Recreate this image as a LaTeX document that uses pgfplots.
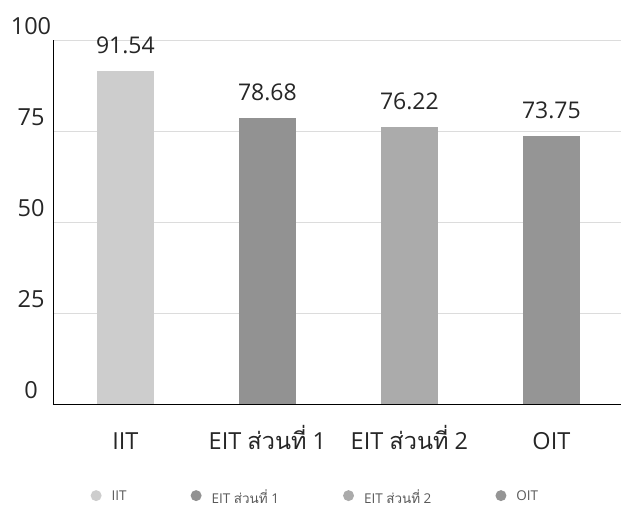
\documentclass[border=0pt]{standalone}
\usepackage{fontspec}
\setmainfont{Open Sans}
\newfontfamily\thaifont[Script=Thai]{Loma}
\usepackage{pgfplots}
\pgfplotsset{compat=1.18}
\definecolor{ciit}{HTML}{CDCDCD}
\definecolor{ceit1}{HTML}{929292}
\definecolor{ceit2}{HTML}{ABABAB}
\definecolor{coit}{HTML}{959595}
\definecolor{gridc}{HTML}{DCDCDC}
\begin{document}
\begin{tikzpicture}
\path[use as bounding box] (-53pt,-122pt) rectangle (577pt,404pt);
\begin{axis}[
  at={(0pt,0pt)}, anchor=south west,
  scale only axis, width=568pt, height=364pt,
  xmin=-0.51, xmax=3.49, ymin=0, ymax=100,
  ybar, bar width=57pt, bar shift=0pt,
  axis x line*=bottom, axis y line*=left,
  axis line style={black, line width=0.8pt, -},
  xtick={0,1,2,3},
  xticklabels={IIT, {EIT {\thaifont ส่วนที่} 1}, {EIT {\thaifont ส่วนที่} 2}, OIT},
  ytick={0,25,50,75,100},
  major tick length=0pt,
  ymajorgrids, grid style={gridc, line width=0.6pt},
  /pgf/number format/assume math mode=true,
  tick label style={font=\fontsize{23.5}{27}\selectfont, text=black!85},
  xticklabel style={anchor=base, inner sep=0pt, yshift=-46pt},
  yticklabel style={anchor=base, inner sep=0pt, xshift=-22pt, yshift=5pt},
  nodes near coords={\pgfmathprintnumber[fixed,fixed zerofill,precision=2,assume math mode=true]{\pgfplotspointmeta}},
  nodes near coords style={font=\fontsize{23}{27}\selectfont, text=black!85, anchor=base, inner sep=0pt, yshift=17pt},
  legend style={at={(0.462,-0.255)}, anchor=center, draw=none, fill=none,
    font=\fontsize{13.5}{16}\selectfont, text=black!65,
    /tikz/every odd column/.append style={column sep=8pt},
    /tikz/every even column/.append style={column sep=62pt}},
  legend columns=4,
  legend image code/.code={\fill[draw=none] (0.3cm,0.12em) circle (5.5pt);},
]
\addplot[fill=ciit, draw=none] coordinates {(0,91.54)};
\addplot[fill=ceit1, draw=none] coordinates {(1,78.68)};
\addplot[fill=ceit2, draw=none] coordinates {(2,76.22)};
\addplot[fill=coit, draw=none] coordinates {(3,73.75)};
\legend{IIT, {EIT {\thaifont ส่วนที่} 1}, {EIT {\thaifont ส่วนที่} 2}, OIT}
\end{axis}
\end{tikzpicture}
\end{document}
